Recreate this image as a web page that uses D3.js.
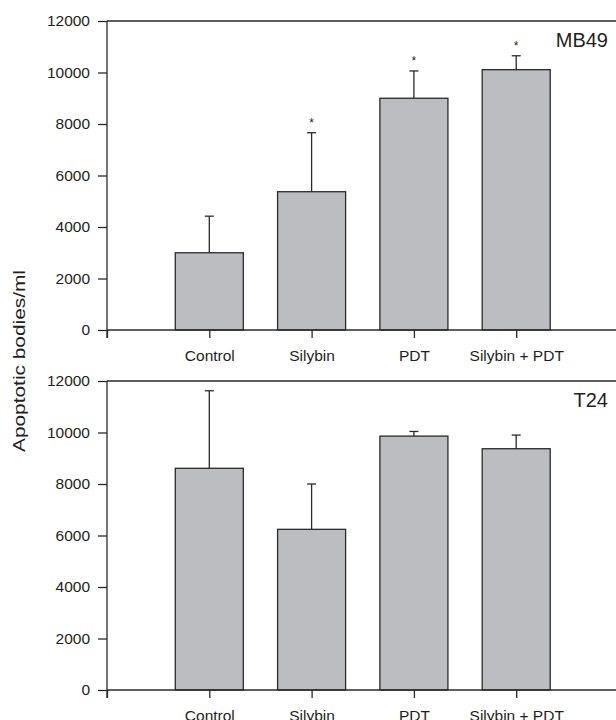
<!DOCTYPE html>
<html>
  <head>
    <meta charset="utf-8">
    <title>Apoptotic bodies</title>
    <style>
      body {
        margin: 0;
        background-color: white;
      }
      .axis text {
        font: 15.5px "Liberation Sans", Arial, sans-serif;
        fill: #231f20;
      }
      .axis path,
      .axis line {
        fill: none;
        stroke: #2a2a2a;
        stroke-width: 1.3px;
      }
      .panelTitle {
        font: 20px "Liberation Sans", Arial, sans-serif;
        fill: #231f20;
        text-anchor: end;
      }
      .YAxisLabel {
        font: 16px "Liberation Sans", Arial, sans-serif;
        fill: #231f20;
        text-anchor: middle;
      }
      .star {
        font: 12px "Liberation Sans", Arial, sans-serif;
        fill: #231f20;
        text-anchor: middle;
      }
    </style>
  </head>
  <body>
  <svg class="graph"></svg>
  <script src="https://d3js.org/d3.v7.min.js"></script>
  <script>
  // data
  var categories = ["Control", "Silybin", "PDT", "Silybin + PDT"];
  var yTicks = [0, 2000, 4000, 6000, 8000, 10000, 12000];

  var mb49Means = [3000, 5370, 9000, 10110];
  var mb49Errors = [1420, 2290, 1060, 540];
  var mb49Stars = [false, true, true, true];

  var t24Means = [8610, 6240, 9860, 9370];
  var t24Errors = [3010, 1760, 180, 530];
  var t24Stars = [false, false, false, false];

  var panels = [
    {name: "MB49", means: mb49Means, errors: mb49Errors, stars: mb49Stars},
    {name: "T24", means: t24Means, errors: t24Errors, stars: t24Stars}
  ];

  var width = 616, height = 720;
  var left = 107;
  var panelTop = [21, 381];
  var panelH = 309;

  var graph = d3.select("svg")
    .attr("width", width)
    .attr("height", height);

  // categories sit at 1..4, 0 is the left axis
  var x = d3.scaleLinear()
    .domain([0, 5])
    .range([left, left + 5 * 102.3]);

  var barW = (x(1) - x(0)) * 0.665;

  panels.forEach(function(p, k) {
    var top = panelTop[k];

    var y = d3.scaleLinear()
      .domain([0, 12000])
      .range([top + panelH, top]);

    var g = graph.append("g");

    // bars
    g.selectAll("rect.bar")
      .data(p.means)
      .enter().append("rect")
      .attr("class", "bar")
      .attr("x", function(d, i) { return x(i + 1) - barW / 2; })
      .attr("y", function(d) { return y(d); })
      .attr("width", barW)
      .attr("height", function(d) { return y(0) - y(d); })
      .attr("fill", "#bcbdc1")
      .attr("stroke", "#2a2a2a")
      .attr("stroke-width", 1.3);

    // error bars (upper only)
    g.selectAll("line.err")
      .data(p.means)
      .enter().append("line")
      .attr("class", "err")
      .attr("x1", function(d, i) { return x(i + 1); })
      .attr("x2", function(d, i) { return x(i + 1); })
      .attr("y1", function(d) { return y(d); })
      .attr("y2", function(d, i) { return y(d + p.errors[i]); })
      .attr("stroke", "#2a2a2a")
      .attr("stroke-width", 1.3);

    g.selectAll("line.cap")
      .data(p.means)
      .enter().append("line")
      .attr("class", "cap")
      .attr("x1", function(d, i) { return x(i + 1) - 4.5; })
      .attr("x2", function(d, i) { return x(i + 1) + 4.5; })
      .attr("y1", function(d, i) { return y(d + p.errors[i]); })
      .attr("y2", function(d, i) { return y(d + p.errors[i]); })
      .attr("stroke", "#2a2a2a")
      .attr("stroke-width", 1.3);

    // significance stars, index kept with each one
    var starIdx = d3.range(p.means.length).filter(function(i) { return p.stars[i]; });
    g.selectAll("text.star")
      .data(starIdx)
      .enter().append("text")
      .attr("class", "star")
      .attr("x", function(i) { return x(i + 1); })
      .attr("y", function(i) { return y(p.means[i] + p.errors[i]) - 6; })
      .text("*");

    // frame line across the top
    g.append("line")
      .attr("x1", left)
      .attr("x2", width + 5)
      .attr("y1", y(12000))
      .attr("y2", y(12000))
      .attr("stroke", "#2a2a2a")
      .attr("stroke-width", 1.3);

    var yAxis = d3.axisLeft(y)
      .tickValues(yTicks)
      .tickFormat(d3.format("d"))
      .tickSize(9)
      .tickPadding(8);

    g.append("g")
      .attr("class", "y axis")
      .attr("transform", "translate(" + left + ",0)")
      .call(yAxis)
      .select(".domain").attr("d", "M0," + (y(0) + 8) + "V" + y(12000));

    var xAxis = d3.axisBottom(x)
      .tickValues([0, 1, 2, 3, 4, 5])
      .tickFormat(function(d) { return categories[d - 1] || ""; })
      .tickSize(8)
      .tickPadding(12);

    g.append("g")
      .attr("class", "x axis")
      .attr("transform", "translate(0," + y(0) + ")")
      .call(xAxis)
      .select(".domain").attr("d", "M" + left + ",0H" + (width + 5));

    g.append("text")
      .attr("class", "panelTitle")
      .attr("x", 608)
      .attr("y", top + 26)
      .text(p.name);
  });

  //yAxis Label
  graph.append("text")
    .attr("class", "YAxisLabel")
    .attr("transform", "rotate(-90)")
    .attr("x", -361)
    .attr("y", 25)
    .attr("textLength", 182)
    .attr("lengthAdjust", "spacingAndGlyphs")
    .text("Apoptotic bodies/ml");
  </script>
  </body>
</html>
